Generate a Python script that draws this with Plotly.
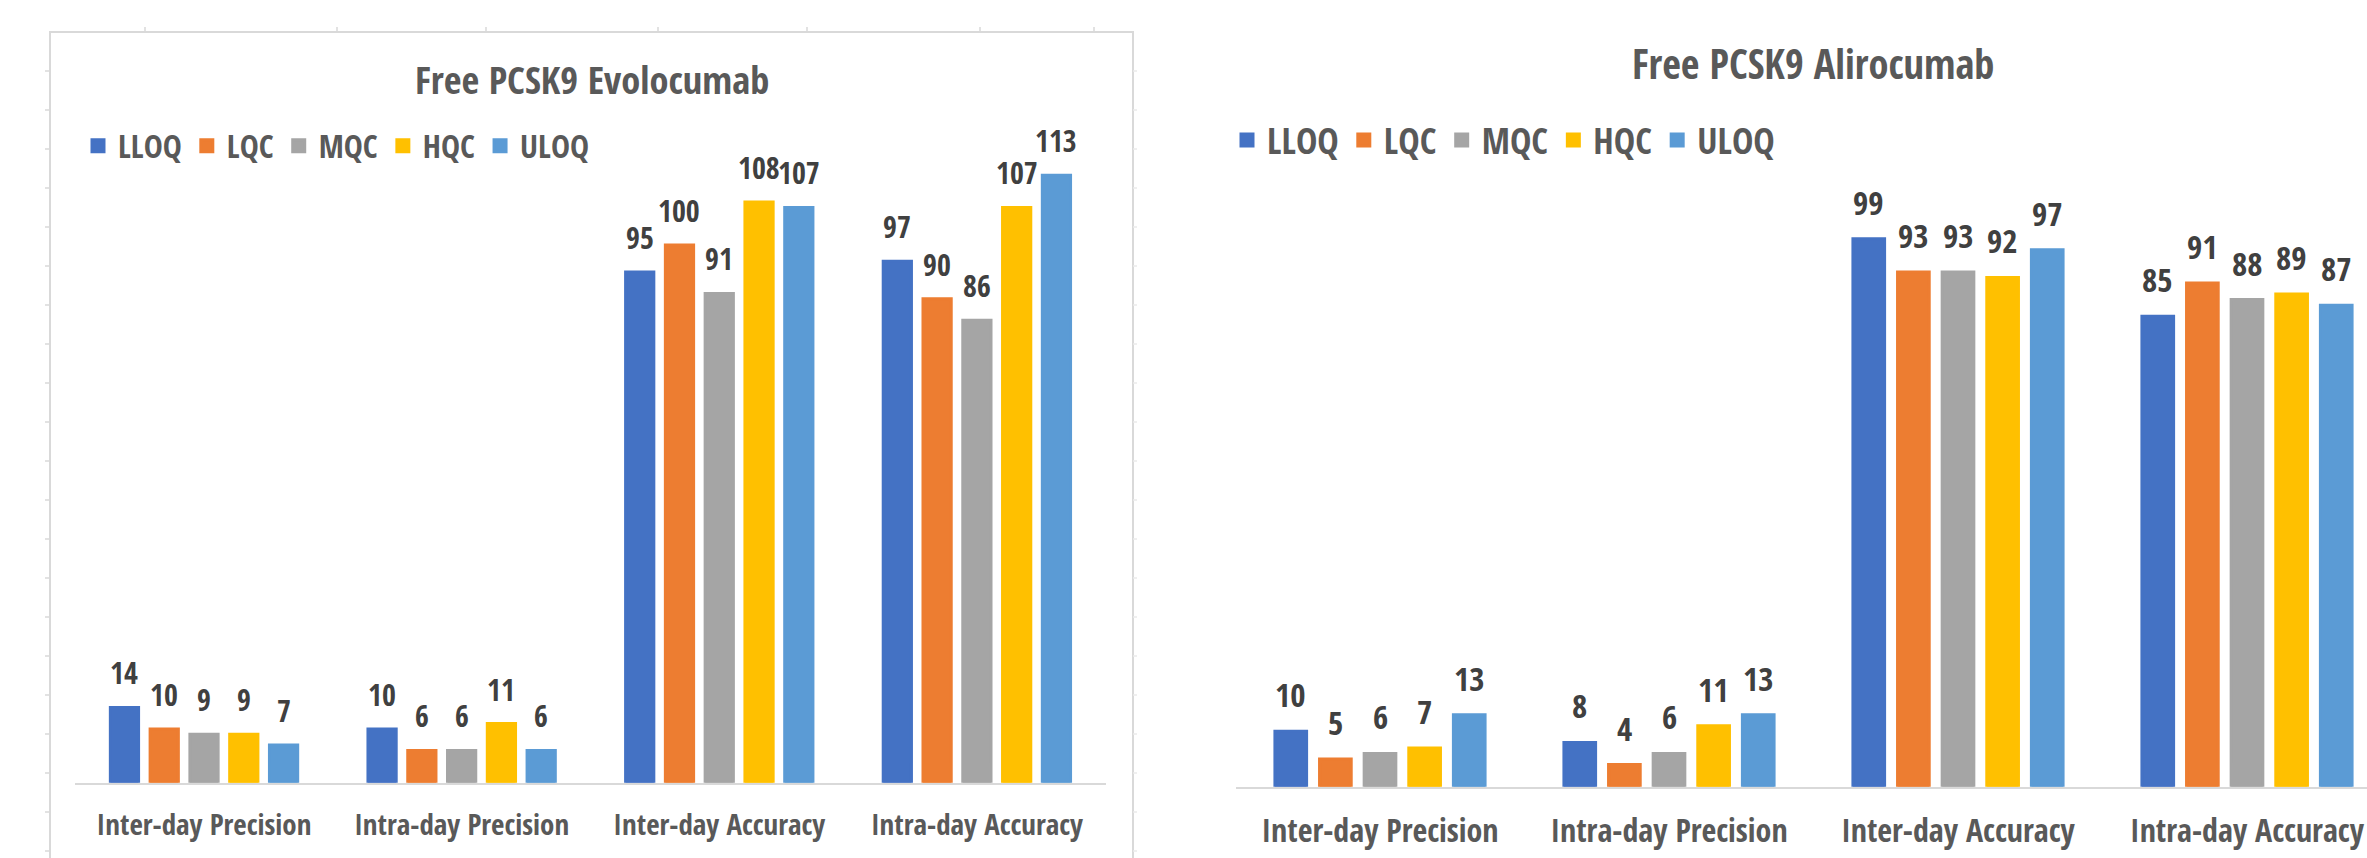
import plotly.graph_objects as go

# ---- data -------------------------------------------------------------
categories = ["Inter-day Precision", "Intra-day Precision",
              "Inter-day Accuracy", "Intra-day Accuracy"]
levels = ["LLOQ", "LQC", "MQC", "HQC", "ULOQ"]

evolocumab_lloq = [14, 10, 95, 97]
evolocumab_lqc = [10, 6, 100, 90]
evolocumab_mqc = [9, 6, 91, 86]
evolocumab_hqc = [9, 11, 108, 107]
evolocumab_uloq = [7, 6, 107, 113]

alirocumab_lloq = [10, 8, 99, 85]
alirocumab_lqc = [5, 4, 93, 91]
alirocumab_mqc = [6, 6, 93, 88]
alirocumab_hqc = [7, 11, 92, 89]
alirocumab_uloq = [13, 13, 97, 87]

evolocumab = [evolocumab_lloq, evolocumab_lqc, evolocumab_mqc,
              evolocumab_hqc, evolocumab_uloq]
alirocumab = [alirocumab_lloq, alirocumab_lqc, alirocumab_mqc,
              alirocumab_hqc, alirocumab_uloq]

colors = ["#4472C4", "#ED7D31", "#A5A5A5", "#FFC000", "#5B9BD5"]

# ---- page geometry (pixels) -------------------------------------------
W, H = 2367, 858
FONT = "Open Sans Condensed, Roboto Condensed, Liberation Sans, sans-serif"
TEXT = "#595959"
LABEL = "#404040"
GRID = "#D9D9D9"

BARGAP = 0.228
BARGROUPGAP = 0.29
EDGE = 3  # outline in the fill colour widens each bar a little

# left chart
L_X0, L_X1 = 75.2, 1105.7
L_BASE, L_PPU, L_YMAX = 782.7, 5.376, 130
# right chart (runs past the right edge of the page)
R_X0, R_CAT = 1235.5, 289.0
R_BASE, R_PPU, R_YMAX = 786.7, 5.535, 120
R_XMAX = -0.5 + (W - R_X0) / R_CAT


def px(x):
    return x / W


def py(y):
    return 1 - y / H


fig = go.Figure()

for k, name in enumerate(levels):
    fig.add_trace(go.Bar(
        x=categories, y=evolocumab[k], name=name,
        marker=dict(color=colors[k], line=dict(color=colors[k], width=EDGE)),
        xaxis="x", yaxis="y", legend="legend",
        offsetgroup=str(k),
    ))
for k, name in enumerate(levels):
    fig.add_trace(go.Bar(
        x=categories, y=alirocumab[k], name=name,
        marker=dict(color=colors[k], line=dict(color=colors[k], width=EDGE)),
        xaxis="x2", yaxis="y2", legend="legend2",
        offsetgroup=str(k),
    ))

# ---- value labels above each bar --------------------------------------
annotations = []
l_slot = (L_X1 - L_X0) / 4 * (1 - BARGAP) / len(levels)
r_slot = R_CAT * (1 - BARGAP) / len(levels)
for series, xref, yref, slot, size in [
    (evolocumab, "x", "y", l_slot, 30),
    (alirocumab, "x2", "y2", r_slot, 33),
]:
    for k, vals in enumerate(series):
        for cat, v in zip(categories, vals):
            annotations.append(dict(
                x=cat, y=v, xref=xref, yref=yref, text=f"<b>{v}</b>",
                showarrow=False, xanchor="center", yanchor="bottom",
                xshift=(k - 2) * slot, yshift=12,
                font=dict(family=FONT, size=size, color=LABEL),
            ))

# chart titles
annotations.append(dict(
    x=px(591.5), y=py(79), xref="paper", yref="paper",
    text="<b>Free PCSK9 Evolocumab</b>", showarrow=False,
    xanchor="center", yanchor="middle",
    font=dict(family=FONT, size=38.5, color=TEXT),
))
annotations.append(dict(
    x=px(1813), y=py(63.5), xref="paper", yref="paper",
    text="<b>Free PCSK9 Alirocumab</b>", showarrow=False,
    xanchor="center", yanchor="middle",
    font=dict(family=FONT, size=40.5, color=TEXT),
))

# ---- chart frame of the left panel, with the sheet's cell-edge stubs ---
shapes = [dict(
    type="rect", xref="paper", yref="paper",
    x0=px(50), x1=px(1133), y0=py(H + 10), y1=py(32),
    line=dict(color=GRID, width=2), fillcolor="rgba(0,0,0,0)", layer="below",
)]
for r in range(21):
    yy = 71 + 39 * r
    shapes.append(dict(type="line", xref="paper", yref="paper",
                       x0=px(45), x1=px(50), y0=py(yy), y1=py(yy),
                       line=dict(color=GRID, width=1.5)))
    shapes.append(dict(type="line", xref="paper", yref="paper",
                       x0=px(1133), x1=px(1137), y0=py(yy), y1=py(yy),
                       line=dict(color="#EAEAEA", width=1.5)))
for xx in [145, 337, 486, 658, 807, 980, 1094]:
    shapes.append(dict(type="line", xref="paper", yref="paper",
                       x0=px(xx), x1=px(xx), y0=py(27), y1=py(32),
                       line=dict(color=GRID, width=1.5)))

xaxis_common = dict(
    type="category", showline=True, linecolor=GRID, linewidth=2,
    ticks="", showgrid=False, zeroline=False, fixedrange=True,
    ticklabelstandoff=15, tickangle=0, automargin=False,
)

fig.update_layout(
    width=W, height=H, autosize=False,
    margin=dict(l=0, r=0, t=0, b=0, autoexpand=False),
    paper_bgcolor="white", plot_bgcolor="rgba(0,0,0,0)",
    barmode="group", bargap=BARGAP, bargroupgap=BARGROUPGAP,
    font=dict(family=FONT, color=TEXT),
    xaxis=dict(domain=[px(L_X0), px(L_X1)], range=[-0.5, 3.5],
               anchor="y", tickfont=dict(family=FONT, size=29, color=TEXT,
                                         weight="bold"),
               **xaxis_common),
    xaxis2=dict(domain=[px(R_X0), 1.0], range=[-0.5, R_XMAX],
                anchor="y2", tickfont=dict(family=FONT, size=32, color=TEXT,
                                           weight="bold"),
                **xaxis_common),
    yaxis=dict(domain=[py(L_BASE), py(L_BASE - L_YMAX * L_PPU)],
               range=[0, L_YMAX], visible=False, anchor="x", automargin=False),
    yaxis2=dict(domain=[py(R_BASE), py(R_BASE - R_YMAX * R_PPU)],
                range=[0, R_YMAX], visible=False, anchor="x2", automargin=False),
    legend=dict(orientation="h", x=px(78), y=py(146), xanchor="left",
                yanchor="middle", bgcolor="rgba(0,0,0,0)",
                font=dict(family=FONT, size=32, color=TEXT, weight="bold"),
                itemclick=False, itemdoubleclick=False),
    legend2=dict(orientation="h", x=px(1227), y=py(140), xanchor="left",
                 yanchor="middle", bgcolor="rgba(0,0,0,0)",
                 font=dict(family=FONT, size=36, color=TEXT, weight="bold"),
                 itemclick=False, itemdoubleclick=False),
    annotations=annotations,
    shapes=shapes,
    showlegend=True,
)

fig.write_html("out.html")
